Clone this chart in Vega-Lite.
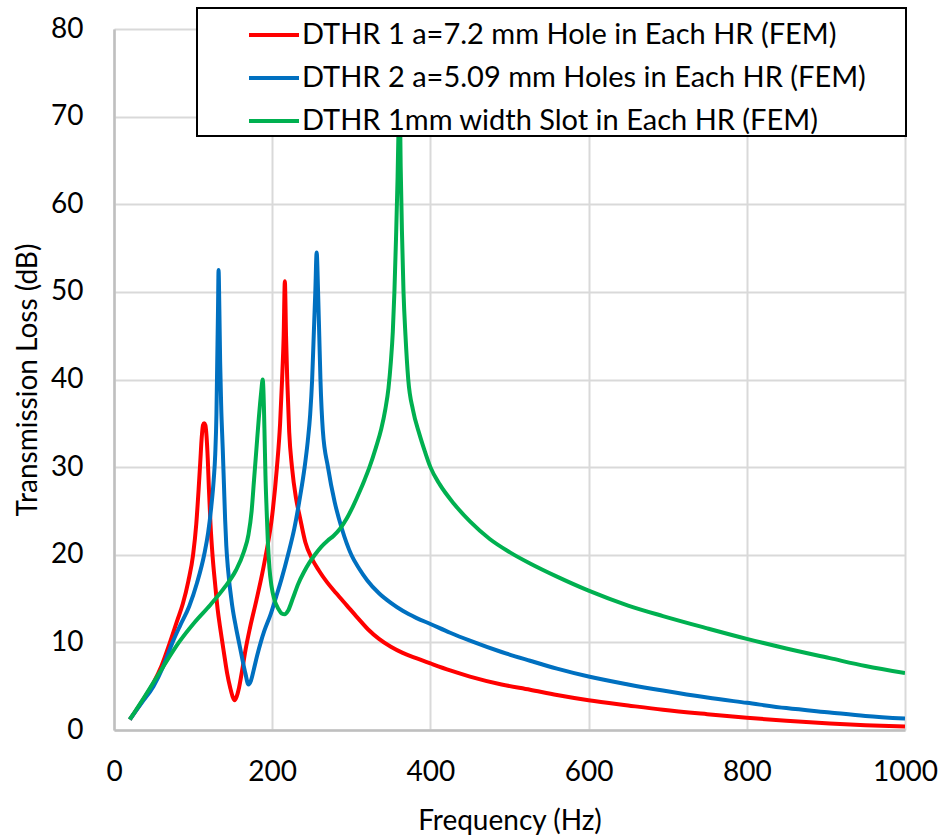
{
"$schema": "https://vega.github.io/schema/vega-lite/v6.json",
"width": 791, "height": 701,
"autosize": {"type": "none"},
"padding": {"left": 114, "top": 29, "right": 34, "bottom": 107},
"background": "white",
"config": {"view": {"stroke": null}, "font": "Lato", "legend": {"strokeWidth": 2}},
"datasets": {
"red": [
[20,1.2],[35,3.2],[50,5.4],[60,7.3],[70,9.8],[80,12.5],[87,14.4],[94,17],[100,20],[104,23.5],[107,27.5],[109,30.5],[111,33.5],[112.5,34.8],[114,35],[115.5,34.8],[117,33.5],[118.5,31],[120,27.5],[122,23.5],[124.5,20],[128,16.5],[131,13.8],[134,11.8],[137,10],[140,8.2],[143,6.5],[147,4.8],[150,3.8],[152.5,3.4],[155,3.8],[158,4.8],[162,6.8],[166,9],[172,11.7],[180,14.8],[187.5,17.9],[192,20],[200,24.5],[206,30],[210,35],[212.5,40],[214.5,45],[216,51.2],[217.5,45],[219,40],[221.5,34],[225,30],[230,26.5],[235,24.3],[242,21.4],[250,19.6],[259,18.2],[269,16.9],[281,15.6],[294.5,14.2],[308,12.8],[321,11.5],[335,10.4],[350,9.5],[365,8.8],[382,8.2],[400,7.6],[425,6.8],[450,6.1],[490,5.2],[526,4.6],[560,4.0],[600,3.4],[650,2.8],[694,2.3],[750,1.8],[800,1.4],[850,1.05],[905,0.75],[950,0.55],[1000,0.4]
],
"blue": [
[20,1.2],[35,3.1],[50,5.0],[62,7.2],[74,10],[84,12],[95,14.1],[105,16.8],[114,20],[119,22.5],[123,25.5],[126,28.5],[128,31.5],[129.5,36],[130.5,42],[131.5,48],[132.2,52.5],[133.2,48],[134.2,42],[135.5,37],[137.5,32],[139,28],[140.5,24],[142,21],[144,18.5],[149.6,14.1],[154,11.8],[158,10],[162,8.2],[166,6.5],[170,5.2],[173,5.6],[177,7.0],[181,8.5],[185.5,10],[190,11.3],[198,13.2],[205,15.2],[212,17.3],[220,20],[228,23],[235,26.5],[241,30],[245,33],[248,36],[250.5,40],[252.5,45],[254.5,50],[256.2,54.5],[258,50],[259.5,45],[261,40],[264,34.2],[270.5,30],[279,26],[288,23],[300,20],[310,18.4],[320,17.1],[335,15.6],[350,14.5],[365,13.6],[382,12.8],[400,12.1],[425,11.1],[450,10.2],[490,8.9],[526,7.9],[560,7.0],[600,6.1],[650,5.2],[694,4.5],[750,3.7],[800,3.1],[850,2.5],[905,2.0],[950,1.6],[1000,1.3]
],
"green": [
[20,1.2],[40,4.0],[60,6.9],[82,10],[102,12.3],[122,14.3],[140,16.3],[154,18.2],[164,20.3],[170,22.3],[174,25],[177,28.5],[180,32],[183,35.5],[186,38.5],[188,40],[189.5,37],[190.5,33],[191.5,29],[193,25],[194.5,21.5],[196.5,18.5],[199,16.5],[203,14.8],[208,13.8],[212,13.3],[216,13.2],[220,13.6],[226,15],[233,16.7],[240,18],[247,19.1],[254,20],[262,20.9],[270,21.6],[278,22.2],[286,23],[294,24.1],[302,25.5],[311,27.3],[317,28.6],[323,30],[331,32.2],[338,34.4],[343,36.6],[347,39],[350,42],[352.5,45.5],[354.5,50],[356.5,56],[358.5,63],[360,70],[360.8,75],[362.5,64],[364,57],[366,50],[368.5,45],[372,40],[378,36.5],[386,33.8],[393,31.8],[400,30],[412,28],[430,25.8],[450,23.8],[475,21.8],[500,20.3],[526,19],[560,17.5],[600,15.9],[650,14.2],[694,13.0],[750,11.6],[800,10.4],[850,9.3],[905,8.2],[950,7.3],[1000,6.5]
]
},
"layer": [
{"data": {"name": "red"},
 "transform": [{"calculate": "datum[0]", "as": "f"}, {"calculate": "datum[1]", "as": "tl"}],
 "mark": {"type": "line", "strokeWidth": 4, "interpolate": "monotone", "clip": true},
 "encoding": {
  "x": {"field": "f", "type": "quantitative"},
  "y": {"field": "tl", "type": "quantitative"},
  "color": {"datum": "DTHR 1 a=7.2 mm Hole in Each HR (FEM)"}
 }},
{"data": {"name": "blue"},
 "transform": [{"calculate": "datum[0]", "as": "f"}, {"calculate": "datum[1]", "as": "tl"}],
 "mark": {"type": "line", "strokeWidth": 4, "interpolate": "monotone", "clip": true},
 "encoding": {
  "x": {"field": "f", "type": "quantitative"},
  "y": {"field": "tl", "type": "quantitative"},
  "color": {"datum": "DTHR 2 a=5.09 mm Holes in Each HR (FEM)"}
 }},
{"data": {"name": "green"},
 "transform": [{"calculate": "datum[0]", "as": "f"}, {"calculate": "datum[1]", "as": "tl"}],
 "mark": {"type": "line", "strokeWidth": 4, "interpolate": "monotone", "clip": true},
 "encoding": {
  "x": {"field": "f", "type": "quantitative"},
  "y": {"field": "tl", "type": "quantitative"},
  "color": {"datum": "DTHR 1mm width Slot in Each HR (FEM)"}
 }}
],
"resolve": {"scale": {"color": "shared"}},
"encoding": {
 "x": {"field": "f", "type": "quantitative",
  "scale": {"domain": [0, 1000], "nice": false},
  "axis": {"values": [0, 200, 400, 600, 800, 1000], "format": "d", "title": "Frequency (Hz)", "grid": true, "gridColor": "#d9d9d9", "gridWidth": 2, "domainColor": "#bfbfbf", "domainWidth": 2.5, "ticks": false, "labelFont": "Lato", "labelFontSize": 28, "labelPadding": 28, "labelColor": "#000", "labelFlush": false, "labelOverlap": false, "titleFont": "Lato", "titleFontSize": 28, "titleFontWeight": "normal", "titleColor": "#000", "titleBaseline": "alphabetic", "titleY": 99}},
 "y": {"field": "tl", "type": "quantitative",
  "scale": {"domain": [0, 80], "nice": false},
  "axis": {"values": [0, 10, 20, 30, 40, 50, 60, 70, 80], "title": "Transmission Loss (dB)", "grid": true, "gridColor": "#d9d9d9", "gridWidth": 2, "domainColor": "#bfbfbf", "domainWidth": 2.5, "ticks": false, "labelFont": "Lato", "labelFontSize": 28, "labelPadding": 31, "labelColor": "#000", "labelFlush": false, "labelOverlap": false, "titleFont": "Lato", "titleFontSize": 28, "titleFontWeight": "normal", "titleColor": "#000", "titleX": -72, "titleY": 350.5}},
 "color": {"type": "nominal",
  "scale": {"domain": ["DTHR 1 a=7.2 mm Hole in Each HR (FEM)", "DTHR 2 a=5.09 mm Holes in Each HR (FEM)", "DTHR 1mm width Slot in Each HR (FEM)"], "range": ["#ff0000", "#0070c0", "#00b050"]},
  "legend": {"orient": "none", "legendX": 83, "legendY": -21, "title": " ", "titleOrient": "right", "titlePadding": 40, "symbolType": "stroke", "symbolSize": 2500, "symbolStrokeWidth": 4, "symbolOffset": 50, "labelOffset": 1, "labelFont": "Lato", "labelFontSize": 29, "labelColor": "#000", "labelLimit": 0, "rowPadding": 1, "padding": 0, "strokeColor": "#000", "fillColor": "#fff"}}
}
}
